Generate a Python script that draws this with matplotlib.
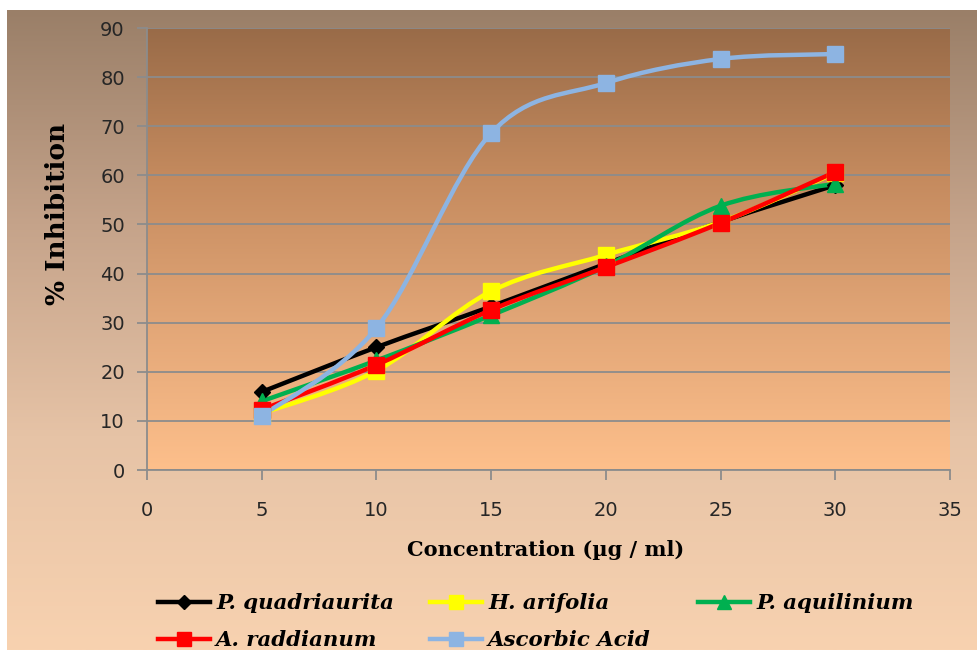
import numpy as np
import matplotlib
matplotlib.use("Agg")
import matplotlib.pyplot as plt
from matplotlib.path import Path
from matplotlib.patches import PathPatch
from matplotlib.colors import LinearSegmentedColormap
from matplotlib.lines import Line2D

# Concentración (µg/ml) y % de inhibición
conc = [5, 10, 15, 20, 25, 30]
p_quadriaurita = [15.9, 25.0, 33.3, 42.0, 50.5, 58.0]
h_arifolia = [11.5, 20.2, 36.4, 43.8, 50.5, 60.5]
p_aquilinium = [14.0, 22.3, 31.5, 41.5, 53.8, 58.3]
a_raddianum = [12.3, 21.4, 32.6, 41.3, 50.3, 60.7]
ascorbico = [11.0, 28.9, 68.6, 78.8, 83.7, 84.7]

nombres = ["P. quadriaurita", "H. arifolia", "P. aquilinium", "A. raddianum", "Ascorbic Acid"]
series = [p_quadriaurita, h_arifolia, p_aquilinium, a_raddianum, ascorbico]
colores = ["#000000", "#ffff00", "#00b050", "#ff0000", "#8db4e2"]
marcadores = ["D", "s", "^", "s", "s"]
tam_marc = [8, 11, 11, 11, 11]

xticks = [0, 5, 10, 15, 20, 25, 30, 35]
yticks = [0, 10, 20, 30, 40, 50, 60, 70, 80, 90]


def curva_suave(x, y):
    # linea suavizada tipo Excel (Bezier por Catmull-Rom)
    p = np.column_stack([x, y]).astype(float)
    p_ext = np.vstack([p[0], p, p[-1]])
    verts = [p[0]]
    codes = [Path.MOVETO]
    for i in range(len(p) - 1):
        p0, p1, p2, p3 = p_ext[i], p_ext[i + 1], p_ext[i + 2], p_ext[i + 3]
        c1 = p1 + (p2 - p0) / 6.0
        c2 = p2 - (p3 - p1) / 6.0
        verts += [c1, c2, p2]
        codes += [Path.CURVE4] * 3
    return Path(verts, codes)


fig = plt.figure(figsize=(9.78, 6.5), dpi=100)
fig.patch.set_facecolor("white")

# fondo degradado de la figura
fondo = fig.add_axes([7 / 978, 0, 971 / 978, 640 / 650], zorder=-10)
cm_fondo = LinearSegmentedColormap.from_list("f", ["#9a7f68", "#c5a38a", "#e6c3a6", "#f8d2b0"])
fondo.imshow(np.linspace(0, 1, 256).reshape(-1, 1), aspect="auto", cmap=cm_fondo,
             extent=[0, 1, 0, 1], origin="upper")
fondo.axis("off")

ax = fig.add_axes([147 / 978, 1 - 470 / 650, (950 - 147) / 978, (470 - 28) / 650])
ax.set_xlim(0, 35)
ax.set_ylim(0, 90)
cm_area = LinearSegmentedColormap.from_list("a", ["#996b48", "#c48a5e", "#e2a677", "#fdbf8b"])
ax.imshow(np.linspace(0, 1, 256).reshape(-1, 1), aspect="auto", cmap=cm_area,
          extent=[0, 35, 0, 90], origin="upper", zorder=0)

for s, c, m, ms in zip(series, colores, marcadores, tam_marc):
    ax.add_patch(PathPatch(curva_suave(conc, s), fill=False, edgecolor=c, lw=3.2,
                           zorder=3, capstyle="round", joinstyle="round"))
    ax.plot(conc, s, linestyle="none", marker=m, color=c, markersize=ms, zorder=4)

ax.set_xticks(xticks)
ax.set_yticks(yticks)
ax.grid(axis="y", color="#8c8c8c", lw=1.3, zorder=1)
ax.grid(axis="x", visible=False)
ax.set_axisbelow(False)
for lado in ["top", "right"]:
    ax.spines[lado].set_visible(False)
for lado in ["left", "bottom"]:
    ax.spines[lado].set_color("#8c8c8c")
    ax.spines[lado].set_linewidth(1.3)
ax.tick_params(direction="out", length=7, width=1.3, color="#8c8c8c",
               labelsize=14, labelcolor="#262626")
ax.tick_params(axis="x", pad=15)
ax.tick_params(axis="y", pad=9)

ax.set_xlabel("Concentration (µg / ml)", fontsize=15, fontweight="bold",
              fontfamily="DejaVu Serif", va="center")
ax.set_ylabel("% Inhibition", fontsize=19, fontweight="bold",
              fontfamily="DejaVu Serif", va="center")
ax.xaxis.set_label_coords(0.496, -0.181)
ax.yaxis.set_label_coords(-0.112, 0.58)

# leyenda: cada entrada en su sitio como en el original
h = [Line2D([0], [0], color=c, lw=3.2, marker=m, markersize=ms * 0.9)
     for c, m, ms in zip(colores, marcadores, tam_marc)]
fuente = dict(family="DejaVu Serif", style="italic", weight="bold", size=15.3)
posiciones = [(158, 603), (430, 603), (698, 603), (158, 640), (430, 640)]
for hi, nom, (xp, yp) in zip(h, nombres, posiciones):
    fig.legend([hi], [nom], loc="center left", bbox_to_anchor=(xp / 978, 1 - yp / 650),
               frameon=False, prop=fuente, handlelength=2.45, handletextpad=0.28,
               borderpad=0, borderaxespad=0)

fig.savefig("out.png", dpi=100)
